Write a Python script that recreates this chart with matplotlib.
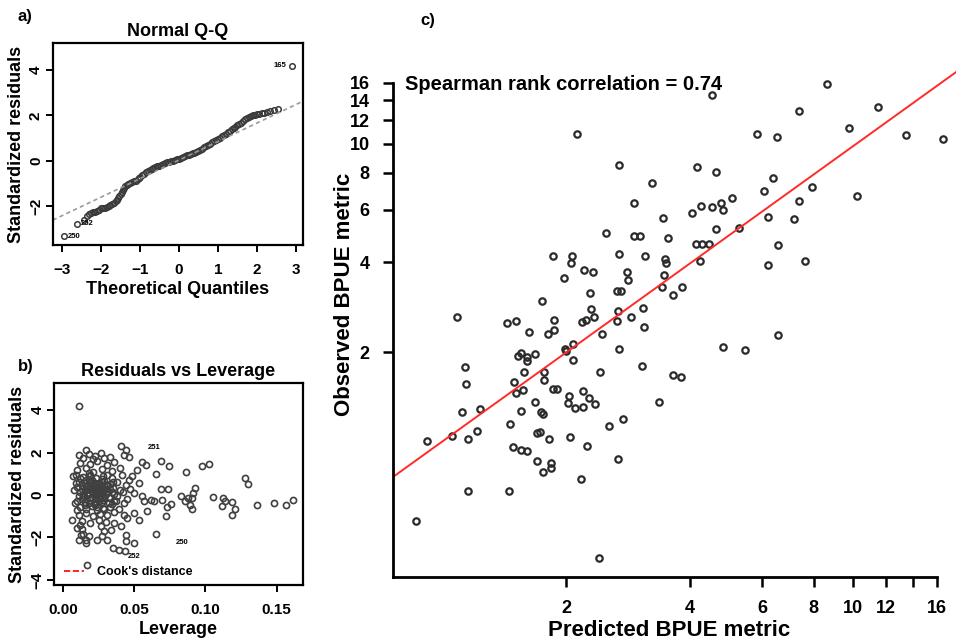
import matplotlib
matplotlib.use("Agg")
import matplotlib.pyplot as plt
from matplotlib.lines import Line2D
from matplotlib.ticker import NullLocator
import numpy as np

# a) Normal Q-Q: theoretical quantiles vs standardized residuals (read off the plot)
qq_theoretical = [-2.95, -2.61, -2.44, -2.35, -2.30, -2.25, -2.20, -2.15, -2.10, -2.05,
                  -2.00, -1.95, -1.90, -1.85, -1.80, -1.75, -1.70, -1.66, -1.62, -1.58,
                  -1.55, -1.52, -1.49, -1.46, -1.43, -1.40, -1.37, -1.33, -1.29, -1.25,
                  -1.20, -1.15, -1.10, -1.05, -1.02, -0.99, -0.95, -0.90, -0.85, -0.80,
                  -0.75, -0.70, -0.65, -0.60, -0.55, -0.50, -0.45, -0.40, -0.35, -0.30,
                  -0.25, -0.20, -0.15, -0.10, -0.05, 0.00, 0.05, 0.10, 0.15, 0.20,
                  0.25, 0.30, 0.35, 0.40, 0.45, 0.50, 0.55, 0.60, 0.65, 0.70,
                  0.75, 0.80, 0.85, 0.90, 0.95, 1.00, 1.05, 1.10, 1.15, 1.20,
                  1.25, 1.30, 1.35, 1.40, 1.45, 1.50, 1.55, 1.60, 1.65, 1.70,
                  1.75, 1.80, 1.85, 1.90, 1.95, 2.00, 2.06, 2.12, 2.19, 2.26,
                  2.34, 2.44, 2.54, 2.90]
qq_residuals = [-3.33, -2.78, -2.60, -2.44, -2.33, -2.30, -2.27, -2.24, -2.20, -2.15,
                -2.10, -2.08, -2.06, -2.03, -2.01, -1.96, -1.90, -1.84, -1.78, -1.72,
                -1.64, -1.56, -1.47, -1.39, -1.30, -1.21, -1.13, -1.07, -1.02, -0.98,
                -0.94, -0.91, -0.87, -0.82, -0.76, -0.70, -0.64, -0.57, -0.51, -0.45,
                -0.40, -0.35, -0.31, -0.28, -0.24, -0.21, -0.17, -0.13, -0.10, -0.07,
                -0.04, -0.02, 0.01, 0.04, 0.06, 0.09, 0.13, 0.17, 0.21, 0.24,
                0.27, 0.30, 0.33, 0.36, 0.40, 0.44, 0.49, 0.54, 0.59, 0.64,
                0.69, 0.75, 0.81, 0.86, 0.91, 0.96, 1.02, 1.07, 1.13, 1.19,
                1.25, 1.32, 1.38, 1.44, 1.50, 1.56, 1.62, 1.68, 1.75, 1.82,
                1.88, 1.93, 1.97, 2.00, 2.02, 2.04, 2.06, 2.09, 2.12, 2.17,
                2.20, 2.24, 2.28, 4.19]
qq_line_intercept = 0.026
qq_line_slope = 0.818
qq_labels = ["165", "252", "250"]
qq_label_x = [2.90, -2.61, -2.95]
qq_label_y = [4.19, -2.78, -3.33]

# b) Residuals vs Leverage
leverage = [0.0110, 0.0169, 0.0408, 0.0440, 0.0465, 0.0430, 0.0157, 0.0110, 0.0181, 0.0263,
            0.0286, 0.0556, 0.0579, 0.0685, 0.0743, 0.0650, 0.0860, 0.0685, 0.0738, 0.0568,
            0.0638, 0.0696, 0.0755, 0.0826, 0.0586, 0.0532, 0.0450, 0.0720, 0.0650, 0.0439,
            0.0497, 0.0439, 0.0395, 0.0435, 0.0350, 0.0063, 0.0098, 0.0122, 0.0110, 0.0157,
            0.0239, 0.0274, 0.0309, 0.0286, 0.0333, 0.0263, 0.0357, 0.0404, 0.0427, 0.0497,
            0.0556, 0.0615, 0.0497, 0.0532, 0.0485, 0.0520, 0.0075, 0.0080, 0.0087, 0.0098,
            0.0070, 0.0973, 0.1027, 0.0926, 0.0915, 0.0879, 0.0903, 0.0856, 0.0891, 0.0903,
            0.1055, 0.1121, 0.1137, 0.1114, 0.1184, 0.1207, 0.1184, 0.1278, 0.1301, 0.1360,
            0.1482, 0.1566, 0.1613, 0.0730,
            0.012, 0.019, 0.024, 0.031, 0.036, 0.010, 0.016, 0.021, 0.027, 0.034,
            0.040, 0.009, 0.014, 0.019, 0.023, 0.028, 0.034, 0.041, 0.046, 0.011,
            0.015, 0.018, 0.022, 0.025, 0.029, 0.033, 0.038, 0.044, 0.010, 0.013,
            0.017, 0.020, 0.023, 0.026, 0.030, 0.035, 0.040, 0.047, 0.012, 0.015,
            0.018, 0.021, 0.024, 0.027, 0.031, 0.036, 0.042, 0.011, 0.014, 0.017,
            0.020, 0.023, 0.026, 0.029, 0.033, 0.038, 0.045, 0.010, 0.015, 0.019,
            0.022, 0.025, 0.028, 0.032, 0.037, 0.043, 0.012, 0.016, 0.020, 0.024,
            0.028, 0.033, 0.039, 0.011, 0.016, 0.021, 0.026, 0.031, 0.036, 0.013,
            0.019, 0.025, 0.030, 0.020, 0.022, 0.025, 0.027, 0.024, 0.021, 0.026,
            0.028, 0.019, 0.029, 0.014, 0.022, 0.021, 0.033,
            0.013, 0.016, 0.018, 0.021, 0.023, 0.025, 0.027, 0.029, 0.031, 0.034,
            0.014, 0.017, 0.019, 0.022, 0.024, 0.026, 0.028, 0.030, 0.033, 0.036,
            0.013, 0.015, 0.018, 0.020, 0.023, 0.025, 0.027, 0.030, 0.032, 0.035,
            0.012, 0.016, 0.019, 0.022, 0.024, 0.027, 0.029, 0.031, 0.034, 0.018,
            0.013, 0.014, 0.016, 0.018, 0.012]
std_residuals = [4.20, -3.31, 2.32, 2.10, 1.78, 1.90, 2.13, 1.90, 1.93, 1.98,
                 1.74, 1.54, 1.43, 1.59, 1.35, 1.00, 1.10, 0.28, 0.28, -0.30,
                 -0.30, -0.25, -0.41, -0.06, -0.77, -1.16, -1.08, -1.00, -1.82, -1.87,
                 -2.26, -2.18, -2.58, -2.66, -2.49, -1.16, -1.55, -1.87, -2.10, -2.10,
                 -2.10, -1.95, -2.10, -1.71, -1.63, -1.47, -1.32, -1.47, -0.93, -0.85,
                 -0.06, -0.22, 0.09, 0.56, 0.88, 1.19, 0.25, -0.38, 0.56, -0.69,
                 0.88, 1.35, 1.47, 0.33, 0.09, -0.14, -0.14, -0.30, -0.46, -0.66,
                 -0.11, -0.14, -0.30, -0.53, -0.34, -0.66, -0.93, 0.80, 0.53, -0.46,
                 -0.38, -0.46, -0.22, -0.57,
                 1.52, 1.45, 1.58, 1.41, 1.55, 1.18, 1.25, 1.10, 1.22, 1.15,
                 1.28, 0.92, 0.85, 0.95, 0.82, 0.90, 0.78, 0.95, 0.70, 0.62,
                 0.55, 0.68, 0.58, 0.50, 0.64, 0.52, 0.60, 0.45, 0.38, 0.30,
                 0.40, 0.33, 0.25, 0.36, 0.28, 0.35, 0.22, 0.30, 0.12, 0.18,
                 0.08, 0.15, 0.20, 0.10, 0.16, 0.05, 0.12, -0.05, -0.10, 0.00,
                 -0.08, -0.02, -0.12, -0.04, -0.15, -0.06, -0.18, -0.28, -0.35, -0.25,
                 -0.40, -0.30, -0.22, -0.36, -0.28, -0.40, -0.58, -0.65, -0.52, -0.70,
                 -0.60, -0.55, -0.68, -0.92, -0.85, -0.98, -0.88, -0.95, -0.80, -1.22,
                 -1.30, -1.18, -1.25, 0.45, 0.20, 0.30, 0.42, 0.05, 0.28, 0.18,
                 0.35, 0.55, -0.15, 1.75, 1.85, 1.70, 1.78,
                 0.48, 0.40, 0.26, 0.52, 0.38, 0.12, 0.60, 0.22, 0.45, 0.14,
                 0.02, 0.30, -0.12, 0.08, 0.34, -0.02, 0.16, 0.04, 0.26, -0.30,
                 -0.20, -0.45, -0.38, 0.70, -0.15, 0.55, -0.35, 0.48, -0.10, 0.60,
                 0.80, 0.72, 0.88, -0.48, -0.55, 0.75, -0.65, 0.95, -0.42, 1.05,
                 -1.60, -1.85, -2.25, -1.95, -1.40]
lev_labels = ["251", "250", "252"]
lev_label_x = [0.064, 0.0835, 0.050]
lev_label_y = [2.22, -2.25, -2.92]

# c) Predicted vs observed BPUE metric
predicted = [2.12, 2.68, 3.24, 2.92, 3.44, 2.50, 2.92, 3.02, 3.54, 1.85,
             2.06, 2.05, 2.69, 3.11, 3.47, 3.49, 2.21, 2.32, 1.97, 2.81,
             2.83, 3.46, 2.28, 2.65, 2.71, 3.41, 3.64, 1.74, 2.29, 2.67,
             3.08, 1.08, 1.43, 1.51, 1.86, 2.18, 2.23, 2.33, 2.88, 2.65,
             1.62, 1.80, 1.86, 2.44, 3.09, 2.69, 1.98, 2.00, 2.08, 2.07,
             1.52, 1.55, 1.60, 1.68, 1.60, 1.13, 1.14, 1.58, 1.76, 1.76,
             2.42, 3.06, 3.64, 1.49, 1.51, 1.57, 1.85, 1.90, 2.03, 2.02,
             2.10, 2.20, 2.27, 2.35, 2.19, 1.68, 1.73, 1.75, 1.55, 1.23,
             1.11, 3.36, 1.46, 1.21, 1.05, 1.15, 0.917, 1.70, 1.72, 1.81,
             2.04, 2.54, 2.74, 2.25, 1.48, 1.55, 1.60, 1.70, 1.83, 1.83,
             1.75, 2.67, 2.17, 1.15, 1.45, 0.862, 2.40,
             8.64, 4.52, 11.46, 7.38, 9.78, 5.83, 6.53, 13.44, 16.56, 4.15,
             4.64, 6.36, 7.92, 6.06, 10.22, 5.06, 7.38, 4.25, 4.52, 4.76,
             4.80, 4.04, 6.18, 7.17, 4.64, 5.26, 4.13, 4.29, 4.45, 6.56,
             4.23, 6.20, 7.62, 3.82, 6.56, 4.82, 5.44, 3.80]
observed = [10.78, 8.50, 7.38, 6.32, 5.63, 5.02, 4.89, 4.92, 4.83, 4.19,
            4.22, 3.98, 4.28, 4.21, 4.11, 3.98, 3.78, 3.71, 3.56, 3.71,
            3.50, 3.62, 3.16, 3.22, 3.22, 3.31, 3.10, 2.96, 2.80, 2.75,
            2.81, 2.62, 2.51, 2.55, 2.57, 2.53, 2.57, 2.62, 2.62, 2.55,
            2.33, 2.30, 2.38, 2.30, 2.43, 2.05, 2.05, 2.02, 2.13, 1.88,
            1.94, 1.99, 1.93, 1.97, 1.87, 1.78, 1.57, 1.72, 1.72, 1.61,
            1.72, 1.80, 1.68, 1.59, 1.46, 1.49, 1.51, 1.50, 1.43, 1.35,
            1.30, 1.48, 1.40, 1.34, 1.31, 1.36, 1.26, 1.24, 1.27, 1.29,
            1.26, 1.36, 1.15, 1.09, 1.05, 1.02, 1.01, 1.07, 1.08, 1.02,
            1.04, 1.13, 1.19, 0.969, 0.964, 0.940, 0.933, 0.865, 0.848, 0.820,
            0.792, 0.877, 0.753, 0.686, 0.686, 0.544, 0.407,
            15.9, 14.6, 13.34, 12.9, 11.3, 10.78, 10.58, 10.67, 10.4, 8.35,
            8.04, 7.71, 7.19, 6.96, 6.69, 6.60, 6.44, 6.21, 6.16, 6.32,
            6.01, 5.88, 5.68, 5.60, 5.19, 5.23, 4.61, 4.61, 4.61, 4.56,
            4.03, 3.93, 4.03, 3.32, 2.29, 2.08, 2.04, 1.65]
fit_intercept = 0.0065   # log(observed) = a + b * log(predicted)
fit_slope = 0.99
spearman_rho = 0.74
bpue_ticks = [2, 4, 6, 8, 10, 12, 14, 16]
bpue_xlabels = ["2", "4", "6", "8", "10", "12", "", "16"]
bpue_ylabels = ["2", "4", "6", "8", "10", "12", "14", "16"]


def style_box(ax):
    for sp in ax.spines.values():
        sp.set_linewidth(1.6)
    ax.tick_params(width=1.4, length=5, labelsize=11)
    ax.tick_params(axis="x", pad=8)
    ax.tick_params(axis="y", pad=2)
    for lab in ax.get_yticklabels():
        lab.set_rotation(90)
        lab.set_va("center")


def draw_qq(ax):
    ax.plot(qq_theoretical, qq_residuals, linestyle="none", marker="o", ms=4.0,
            mfc="none", mec="#3a3a3a", mew=1.1)
    xs = np.array([-3.4, 3.4])
    ax.plot(xs, qq_line_intercept + qq_line_slope * xs, color="#9a9a9a",
            lw=1.2, linestyle=(0, (2.5, 2)))
    for lab, x, y in zip(qq_labels, qq_label_x, qq_label_y):
        if x > 0:
            ax.annotate(lab, (x, y), xytext=(-4, 0), textcoords="offset points",
                        ha="right", va="center", fontsize=5.5)
        else:
            ax.annotate(lab, (x, y), xytext=(3, 0), textcoords="offset points",
                        ha="left", va="center", fontsize=5.5)
    ax.set_xlim(-3.23, 3.17)
    ax.set_ylim(-3.71, 5.19)
    ax.set_xticks([-3, -2, -1, 0, 1, 2, 3])
    ax.set_yticks([-2, 0, 2, 4])
    ax.set_title("Normal Q-Q", fontsize=13, fontweight="bold", pad=5)
    ax.set_xlabel("Theoretical Quantiles", fontsize=13, fontweight="bold", labelpad=3)
    ax.set_ylabel("Standardized residuals", fontsize=13, fontweight="bold", labelpad=3)
    style_box(ax)


def draw_leverage(ax):
    ax.plot(leverage, std_residuals, linestyle="none", marker="o", ms=4.4,
            mfc="none", mec="#404040", mew=1.2)
    for lab, x, y in zip(lev_labels, lev_label_x, lev_label_y):
        ax.text(x, y, lab, ha="center", va="center", fontsize=5.5)
    handle = Line2D([], [], color="red", linestyle="--", lw=1.2)
    ax.legend([handle], ["Cook's distance"], loc="lower left", frameon=False,
              fontsize=9, handlelength=1.6, handletextpad=1.0,
              bbox_to_anchor=(0.005, -0.01), borderaxespad=0.3)
    ax.set_xlim(-0.0065, 0.1684)
    ax.set_ylim(-4.24, 5.26)
    ax.set_xticks([0.00, 0.05, 0.10, 0.15])
    ax.set_xticklabels(["0.00", "0.05", "0.10", "0.15"])
    ax.set_yticks([-4, -2, 0, 2, 4])
    ax.set_title("Residuals vs Leverage", fontsize=13, fontweight="bold", pad=5)
    ax.set_xlabel("Leverage", fontsize=13, fontweight="bold", labelpad=3)
    ax.set_ylabel("Standardized residuals", fontsize=13, fontweight="bold", labelpad=3)
    style_box(ax)


def draw_scatter(ax):
    ax.set_xscale("log")
    ax.set_yscale("log")
    ax.plot(predicted, observed, linestyle="none", marker="o", ms=4.6,
            mfc="none", mec="#2a2a2a", mew=1.6)
    xlim = (0.757, 17.79)
    ylim = (0.353, 27.9)
    xs = np.array(xlim)
    ax.plot(xs, np.exp(fit_intercept) * xs ** fit_slope, color="#ff2a2a", lw=1.4)
    ax.set_xlim(*xlim)
    ax.set_ylim(*ylim)
    ax.set_xticks(bpue_ticks)
    ax.set_xticklabels(bpue_xlabels)
    ax.set_yticks(bpue_ticks)
    ax.set_yticklabels(bpue_ylabels)
    ax.xaxis.set_minor_locator(NullLocator())
    ax.yaxis.set_minor_locator(NullLocator())
    ax.spines["top"].set_visible(False)
    ax.spines["right"].set_visible(False)
    ax.spines["left"].set_bounds(ylim[0], 16)
    ax.spines["bottom"].set_bounds(xlim[0], 16)
    for sp in ("left", "bottom"):
        ax.spines[sp].set_linewidth(2.0)
    ax.tick_params(width=1.8, length=7, labelsize=13)
    ax.tick_params(axis="x", pad=10)
    ax.tick_params(axis="y", pad=10)


def main():
    plt.rcParams["font.family"] = ["Liberation Sans", "DejaVu Sans"]
    plt.rcParams["font.weight"] = "bold"
    fig = plt.figure(figsize=(9.56, 6.44), dpi=100)

    ax_a = fig.add_axes([0.0551, 0.6196, 0.2615, 0.3137])
    ax_b = fig.add_axes([0.0565, 0.0916, 0.2601, 0.3132])
    ax_c = fig.add_axes([0.4114, 0.1045, 0.5886, 0.8784])

    draw_qq(ax_a)
    draw_leverage(ax_b)
    draw_scatter(ax_c)

    fig.text(669 / 956, 1 - 630 / 644, "Predicted BPUE metric", fontsize=16,
             fontweight="bold", ha="center", va="center")
    fig.text(344 / 956, 1 - 294 / 644, "Observed BPUE metric", fontsize=16,
             fontweight="bold", ha="center", va="center", rotation=90)
    fig.text(405 / 956, 1 - 85 / 644, "Spearman rank correlation = %.2f" % spearman_rho,
             fontsize=14.5, fontweight="bold", va="center")
    fig.text(18 / 956, 1 - 17 / 644, "a)", fontsize=12, fontweight="bold", va="center")
    fig.text(18 / 956, 1 - 366 / 644, "b)", fontsize=12, fontweight="bold", va="center")
    fig.text(420 / 956, 1 - 20 / 644, "c)", fontsize=12, fontweight="bold", va="center")

    fig.savefig("out.png", dpi=100)


if __name__ == "__main__":
    main()
